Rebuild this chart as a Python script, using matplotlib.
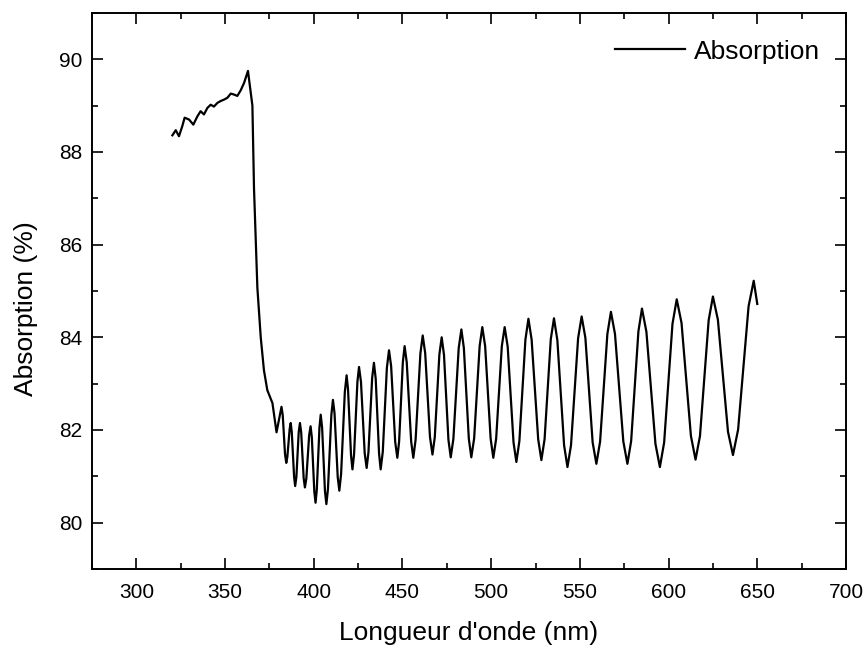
import matplotlib
matplotlib.use('Agg')
import matplotlib.pyplot as plt
from matplotlib.ticker import MultipleLocator

# longueur d'onde (nm) et absorption (%)
wavelength = [
    320.3, 322.2, 324.0, 325.9, 327.2, 329.7, 332.1, 334.4, 336.2, 338.1,
    340.0, 341.9, 343.7, 345.7, 347.5, 349.4, 351.3, 353.2, 355.0, 356.9,
    358.8, 360.7, 362.9, 365.4, 366.3, 368.2, 370.1, 371.9, 373.8, 376.7,
    379.0, 381.8, 382.5, 383.8, 384.5, 385.1, 386.4, 387.0, 387.6, 388.9,
    389.5, 390.2, 391.5, 392.2, 392.9, 394.3, 395.0, 395.8, 397.4, 398.2,
    398.9, 400.3, 401.0, 401.7, 403.2, 403.9, 404.7, 406.3, 407.1, 408.0,
    409.9, 410.8, 411.7, 413.5, 414.4, 415.4, 417.5, 418.5, 419.3, 421.0,
    421.8, 422.7, 424.6, 425.5, 426.6, 428.7, 429.8, 430.8, 432.9, 433.9,
    434.9, 436.8, 437.7, 438.9, 441.2, 442.4, 443.6, 445.9, 447.1, 448.1,
    450.2, 451.2, 452.4, 454.9, 456.1, 457.4, 460.1, 461.4, 462.8, 465.5,
    466.9, 468.2, 470.8, 472.1, 473.4, 475.9, 477.2, 478.7, 481.7, 483.2,
    484.6, 487.4, 488.8, 490.4, 493.5, 495.0, 496.6, 499.7, 501.2, 502.8,
    506.0, 507.6, 509.3, 512.6, 514.2, 515.9, 519.3, 521.0, 522.8, 526.5,
    528.3, 530.1, 533.6, 535.4, 537.3, 541.1, 543.0, 545.0, 549.0, 551.0,
    553.1, 557.2, 559.3, 561.4, 565.5, 567.5, 569.8, 574.5, 576.8, 578.9,
    583.0, 585.0, 587.5, 592.6, 595.1, 597.5, 602.2, 604.6, 607.3, 612.6,
    615.2, 617.7, 622.6, 625.0, 627.8, 633.5, 636.3, 639.2, 645.1, 648.0,
    650.0,
]
absorption = [
    88.36, 88.47, 88.34, 88.56, 88.74, 88.70, 88.59, 88.77, 88.88, 88.81,
    88.95, 89.02, 88.98, 89.06, 89.10, 89.13, 89.17, 89.26, 89.24, 89.21,
    89.33, 89.49, 89.75, 89.00, 87.22, 85.07, 84.00, 83.29, 82.86, 82.58,
    81.95, 82.50, 82.32, 81.47, 81.29, 81.42, 82.02, 82.15, 81.95, 80.99,
    80.79, 80.99, 81.95, 82.15, 81.95, 80.96, 80.76, 80.95, 81.89, 82.08,
    81.84, 80.67, 80.43, 80.71, 82.05, 82.33, 82.05, 80.68, 80.40, 80.73,
    82.32, 82.65, 82.36, 80.98, 80.69, 81.05, 82.82, 83.18, 82.88, 81.45,
    81.15, 81.47, 83.04, 83.36, 83.04, 81.50, 81.18, 81.51, 83.12, 83.45,
    83.11, 81.49, 81.15, 81.53, 83.34, 83.72, 83.38, 81.74, 81.40, 81.75,
    83.46, 83.81, 83.46, 81.75, 81.40, 81.79, 83.65, 84.04, 83.66, 81.85,
    81.47, 81.84, 83.63, 84.00, 83.62, 81.79, 81.41, 81.81, 83.77, 84.17,
    83.77, 81.81, 81.41, 81.82, 83.81, 84.22, 83.81, 81.81, 81.40, 81.81,
    83.81, 84.22, 83.80, 81.73, 81.31, 81.76, 83.95, 84.40, 83.95, 81.80,
    81.35, 81.80, 83.96, 84.41, 83.94, 81.67, 81.20, 81.67, 83.98, 84.45,
    83.99, 81.73, 81.27, 81.75, 84.07, 84.55, 84.07, 81.75, 81.27, 81.76,
    84.13, 84.62, 84.12, 81.70, 81.20, 81.73, 84.29, 84.82, 84.31, 81.87,
    81.36, 81.87, 84.37, 84.88, 84.38, 81.96, 81.46, 82.01, 84.67, 85.22,
    84.72,
]

plt.rcParams['font.family'] = ['Liberation Sans', 'DejaVu Sans']

fig = plt.figure(figsize=(8.65, 6.49), dpi=100)
ax = fig.add_axes([0.1064, 0.1233, 0.8716, 0.8567])

ax.plot(wavelength, absorption, color='black', linewidth=1.6, label='Absorption',
        solid_joinstyle='round')

ax.set_xlim(275, 700)
ax.set_ylim(79, 91)
ax.xaxis.set_major_locator(MultipleLocator(50))
ax.xaxis.set_minor_locator(MultipleLocator(25))
ax.yaxis.set_major_locator(MultipleLocator(2))
ax.yaxis.set_minor_locator(MultipleLocator(1))
ax.tick_params(which='both', direction='in', top=True, right=True, width=1.2)
ax.tick_params(which='major', length=8, labelsize=15)
ax.tick_params(axis='x', which='major', pad=10)
ax.tick_params(axis='y', which='major', pad=7)
ax.tick_params(which='minor', length=4.5)
for sp in ax.spines.values():
    sp.set_linewidth(1.4)

ax.set_xlabel("Longueur d'onde (nm)", fontsize=19, labelpad=14)
ax.set_ylabel('Absorption (%)', fontsize=19)
ax.yaxis.set_label_coords(-0.072, 0.469)

ax.legend(loc='upper right', frameon=False, fontsize=19, handlelength=2.65,
          handletextpad=0.35, bbox_to_anchor=(0.997, 0.995))

fig.savefig('out.png', dpi=100)
